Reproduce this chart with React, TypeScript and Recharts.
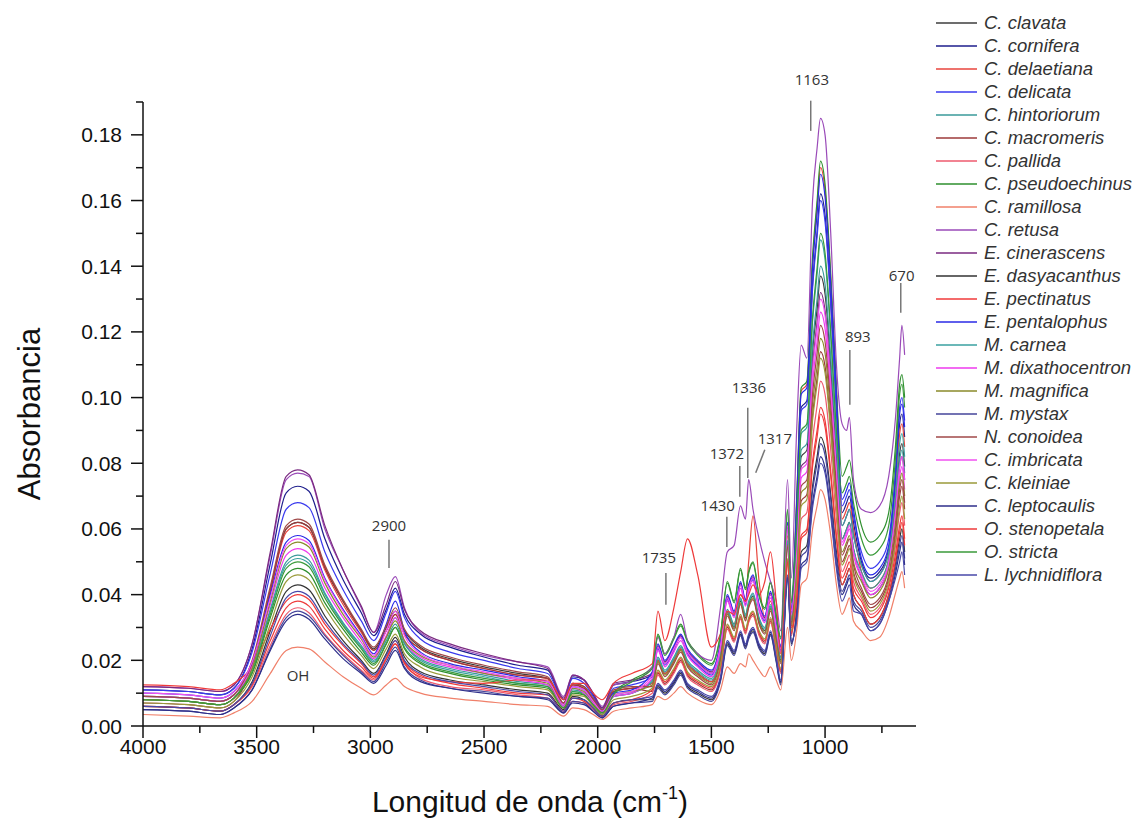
import React from 'react';
import { LineChart, Line, XAxis, YAxis, ReferenceLine, ReferenceDot } from 'recharts';

// wavenumbers (cm-1) at which every spectrum is sampled
const WAVENUMBER = [
  4000, 3800, 3660, 3600, 3520, 3440, 3370, 3320, 3270, 3200,
  3120, 3040, 2985, 2930, 2890, 2850, 2780, 2650, 2500, 2350,
  2220, 2150, 2110, 2060, 2020, 1980, 1930, 1850, 1760, 1735,
  1705, 1665, 1635, 1605, 1560, 1500, 1460, 1430, 1400, 1372,
  1350, 1336, 1317, 1290, 1265, 1240, 1215, 1195, 1165, 1148,
  1125, 1105, 1080, 1055, 1035, 1020, 1000, 975, 950, 925,
  905, 893, 875, 840, 800, 760, 720, 690, 672, 662,
  650,
];

// absorbance values in thousandths (x 0.001)
const cClavata = [
  8, 7.5, 6.5, 8.5, 19, 41.5, 60, 62, 60.5, 48,
  38, 29, 23.5, 30, 35, 29, 24, 20.5, 18, 16,
  14.5, 7, 13, 12, 8, 5, 10.5, 11.5, 13, 20,
  16, 20, 23.5, 19, 16, 13.5, 21, 34.5, 30, 38,
  33, 37, 39.5, 32, 29, 36, 27, 20, 55.5, 31.5,
  55, 82, 84, 114, 127, 137, 131.5, 110, 82, 57,
  60, 62, 54, 45, 40, 42, 49, 67, 83, 86,
  79,
];
const cCornifera = [
  11, 10.5, 9.5, 11.5, 23.5, 49.5, 71, 73, 71.5, 57,
  44.5, 34.5, 27.5, 35.5, 42, 34, 28, 24, 21, 18.5,
  17, 8, 15, 14, 9.5, 5.5, 12.5, 13.5, 15.5, 24,
  19, 23.5, 27, 22.5, 19, 16, 24.5, 39, 34, 43,
  37.5, 42, 45, 36, 32.5, 40, 30.5, 23.5, 61, 35,
  65, 97, 99, 134.5, 150.5, 162, 155.5, 129.5, 97, 65,
  68, 70, 62, 50, 45, 47, 54, 74, 92, 95,
  88,
];
const cDelaetiana = [
  9, 8.5, 7.5, 9.5, 19.5, 41, 59, 61, 59.5, 47.5,
  37, 28.5, 23, 29, 34, 28, 23.5, 20, 17.5, 15.5,
  14.5, 7, 12.5, 11.5, 8, 4.5, 10.5, 11.5, 13, 20,
  16, 20, 23.5, 19, 16, 13.5, 21, 34.5, 31, 40,
  38, 50, 64, 44, 33, 38, 28, 21, 58, 32,
  68, 102, 104, 141, 158, 170, 163, 136, 102, 63,
  66, 68, 60, 47, 42, 44, 51, 71, 89, 92,
  85,
];
const cDelicata = [
  11, 10.5, 9.5, 11.5, 22.5, 46.5, 66, 68, 66.5, 53,
  41.5, 32, 26, 34.5, 41, 33, 26.5, 22.5, 20, 17.5,
  16, 8, 14.5, 13, 9, 5, 11.5, 12.5, 15, 23.5,
  18.5, 23, 27.5, 22, 18.5, 15.5, 24, 38.5, 33.5, 43.5,
  37, 42.5, 44.5, 35.5, 32, 40.5, 30, 23, 62, 34.5,
  64, 96, 98, 133, 149, 160, 153.5, 128, 96, 67,
  70, 72, 64, 53, 48, 50, 57, 78, 97, 100,
  93,
];
const cHintoriorum = [
  9, 8.5, 7.5, 9.5, 17.5, 35.5, 50, 52, 50.5, 40.5,
  31.5, 24.5, 20, 26, 31, 25, 20.5, 17.5, 15.5, 13.5,
  12.5, 6, 11, 10, 7, 4, 9, 10, 14, 21,
  17, 21, 24.5, 20, 17, 14.5, 22, 35.5, 31, 39,
  34, 38, 40.5, 33, 30, 37, 28, 21, 56.5, 32.5,
  56, 84, 86, 116, 130, 140, 134.5, 112, 84, 57,
  60, 62, 54, 47, 42, 44, 51, 67, 81, 84,
  77,
];
const cMacromeris = [
  7, 6.5, 5.5, 7.5, 18, 41, 60, 62, 60.5, 48.5,
  38, 29, 23, 29, 34, 28, 23.5, 20, 17.5, 15.5,
  14.5, 7, 12.5, 11.5, 8, 4.5, 10.5, 11.5, 10.5, 16,
  13, 16.5, 20, 15.5, 13, 11, 17.5, 30, 26, 33,
  28.5, 32, 34, 28, 25.5, 32, 23.5, 16.5, 50, 28,
  45.5, 68.5, 70.5, 94.5, 106, 114, 109.5, 91, 68.5, 50,
  53, 55, 47, 41, 36, 38, 45, 58.5, 70, 73,
  66,
];
const cPallida = [
  6, 5.5, 4.5, 6.5, 12, 24.5, 34, 36, 34.5, 28,
  22, 17, 14, 20.5, 26, 19.5, 14.5, 12, 11, 9.5,
  8.5, 4, 7.5, 7, 5, 3, 6.5, 7.5, 10, 15.5,
  12.5, 16, 19.5, 15, 12.5, 10.5, 17, 29.5, 25.5, 32.5,
  28, 31.5, 33.5, 27.5, 25, 31.5, 23, 16, 49.5, 27.5,
  42, 63, 65, 87, 97.5, 105, 101, 84, 63, 47,
  50, 52, 44, 39, 34, 36, 43, 55, 65, 68,
  61,
];
const cPseudoechinus = [
  8, 7.5, 6.5, 8.5, 16, 33, 46, 48, 46.5, 37.5,
  29.5, 22.5, 18.5, 25, 30, 23.5, 19, 16, 14, 12.5,
  11.5, 5.5, 10, 9.5, 6.5, 3.5, 10, 14, 18, 28,
  22, 27, 31, 26, 22, 19, 28, 44, 38, 48,
  42, 47, 50, 40, 36, 44, 34, 27, 66, 38,
  69, 103, 105, 143, 160, 172, 165, 137.5, 103, 76,
  79, 81, 73, 61, 56, 58, 65, 85.5, 104, 107,
  100,
];
const cRamillosa = [
  3.5, 3, 2.5, 4, 7.5, 16, 23, 24, 23.5, 19.5,
  15, 11.5, 9.5, 12.5, 14.5, 12, 10, 8.5, 7.5, 6.5,
  6, 3, 5.5, 5, 3.5, 2, 4.5, 5.5, 6.5, 9,
  8, 10, 12, 10, 8, 6.5, 11, 18, 16, 19,
  18, 22, 20, 17, 15, 18, 14, 11, 30, 20,
  29, 43, 45, 60, 67, 72, 69, 58, 43, 34,
  37, 39, 32, 29, 26, 27, 33, 40.5, 45, 47,
  42,
];
const cRetusa = [
  12, 11.5, 10.5, 12.5, 25, 52, 75, 77, 76, 60,
  47.5, 36, 28.5, 40, 45.5, 36, 28.5, 24.5, 21.5, 19.5,
  18, 9, 15.5, 14, 10, 6, 12.5, 13.5, 18, 27,
  22, 27, 34, 26, 22, 20, 36, 53, 55, 67,
  63, 75, 66, 57, 50, 44, 38, 29, 75, 45,
  90, 116, 112, 160, 176, 185, 180, 150, 110, 92,
  90, 94, 75, 66, 65, 67, 76, 94, 112, 122,
  113,
];
const eCinerascens = [
  12, 11.5, 10.5, 12.5, 25, 53, 76, 78, 76.5, 61,
  47.5, 36.5, 28.5, 37, 44, 35.5, 29, 25, 22, 19.5,
  17.5, 8.5, 15.5, 14, 10, 5.5, 13, 14, 16, 24.5,
  19.5, 24, 27.5, 23, 19.5, 16.5, 25, 39.5, 34.5, 43.5,
  38, 42.5, 45.5, 36.5, 33, 40.5, 31, 24, 61.5, 35.5,
  53, 79, 81, 109.5, 123, 132, 126.5, 105.5, 79, 61,
  64, 66, 58, 49, 44, 46, 53, 67, 79, 82,
  75,
];
const eDasyacanthus = [
  6, 5.5, 4.5, 6.5, 13.5, 29, 41, 43, 41.5, 33.5,
  26, 20, 16, 22, 27, 21, 16.5, 14, 12.5, 11,
  10, 5, 9, 8, 5.5, 3, 7, 8, 8, 12,
  10, 13, 16, 12, 10, 8, 14, 25, 22, 28,
  24, 27, 29, 24, 22, 28, 20, 13, 45, 25,
  35, 53, 55, 73, 82, 88, 84.5, 70.5, 53, 43,
  46, 48, 40, 36, 31, 33, 40, 49.5, 57, 60,
  53,
];
const ePectinatus = [
  12.5, 12, 11, 13, 18, 29.5, 38, 40, 38.5, 31,
  24.5, 19, 15, 20.5, 25, 19.5, 15.5, 13, 11.5, 10,
  9.5, 4.5, 8.5, 7.5, 5.5, 3, 7, 8, 11, 16.5,
  13.5, 17, 20.5, 16, 13.5, 11.5, 18, 30.5, 26.5, 33.5,
  29, 32.5, 34.5, 28.5, 26, 32.5, 24, 17, 50.5, 28.5,
  39, 58, 60, 80.5, 90, 97, 93, 77.5, 58, 45,
  48, 50, 42, 38, 33, 35, 42, 52.5, 61, 64,
  57,
];
const ePentalophus = [
  10, 9.5, 8.5, 10.5, 19.5, 40, 56, 58, 56.5, 45,
  35.5, 27.5, 22, 31, 38, 29, 22.5, 19, 17, 15,
  13.5, 6.5, 12, 11, 7.5, 4.5, 10, 11, 16.5, 25,
  20, 24.5, 28, 23.5, 20, 17, 25.5, 40, 35, 44,
  38.5, 43, 46, 37, 33.5, 41, 31.5, 24.5, 62, 36,
  67, 101, 103, 139.5, 156, 168, 161, 134.5, 101, 69,
  72, 74, 66, 51, 46, 48, 55, 76, 95, 98,
  91,
];
const mCarnea = [
  9, 8.5, 7.5, 9.5, 17.5, 35, 49, 51, 49.5, 40,
  31, 24, 19.5, 27, 33, 25.5, 20, 17, 15, 13,
  12, 6, 10.5, 10, 7, 4, 9, 10, 13.5, 20.5,
  16.5, 20.5, 24, 19.5, 16.5, 14, 21.5, 35, 30.5, 38.5,
  33.5, 37.5, 40, 32.5, 29.5, 36.5, 27.5, 20.5, 56, 32,
  59, 89, 91, 123, 137.5, 148, 142, 118.5, 89, 61,
  64, 66, 58, 49, 44, 46, 53, 70.5, 86, 89,
  82,
];
const mDixathocentron = [
  9, 8.5, 7.5, 9.5, 18, 37, 52, 54, 52.5, 42,
  33, 25.5, 20.5, 27.5, 33, 26, 21, 18, 16, 14,
  12.5, 6, 11.5, 10, 7, 4, 9, 10, 14.5, 23,
  18, 22.5, 26, 21.5, 18, 15, 23.5, 38, 33, 42,
  36.5, 41, 44, 35, 31.5, 39, 29.5, 22.5, 60, 34,
  50.5, 75.5, 77.5, 104.5, 117, 126, 121, 101, 75.5, 55,
  58, 60, 52, 45, 40, 42, 49, 63.5, 76, 79,
  72,
];
const mMagnifica = [
  8, 7.5, 6.5, 8.5, 17.5, 38, 54, 56, 54.5, 43.5,
  34, 26.5, 21, 27, 32, 26, 21.5, 18.5, 16, 14.5,
  13, 6.5, 11.5, 10.5, 7.5, 4, 9.5, 10.5, 12.5, 19.5,
  15.5, 19.5, 23, 18.5, 15.5, 13, 20.5, 34, 29.5, 37.5,
  32.5, 36.5, 39, 31.5, 28.5, 35.5, 26.5, 19.5, 55, 31,
  47, 71, 73, 98, 109.5, 118, 113.5, 94.5, 71, 53,
  56, 58, 50, 44, 39, 41, 48, 62, 74, 77,
  70,
];
const mMystax = [
  5, 4.5, 3.5, 5.5, 11, 23.5, 33, 35, 33.5, 27.5,
  21.5, 16.5, 13.5, 19.5, 24, 18, 14, 11.5, 10.5, 9,
  8.5, 4, 7.5, 7, 4.5, 2.5, 6, 7, 7.5, 11.5,
  9.5, 12.5, 15.5, 11.5, 9.5, 7.5, 13.5, 24.5, 21.5, 27.5,
  23.5, 26.5, 28.5, 23.5, 21.5, 27.5, 19.5, 12.5, 44.5, 24.5,
  34.5, 51.5, 53.5, 71.5, 80, 86, 82.5, 69, 51.5, 41,
  44, 46, 38, 35, 30, 32, 39, 48, 55, 58,
  51,
];
const nConoidea = [
  9, 8.5, 7.5, 9.5, 20, 42.5, 61, 63, 61.5, 49,
  38.5, 29.5, 24, 30.5, 36, 29.5, 24.5, 21, 18.5, 16.5,
  15, 7, 13, 12, 8.5, 5, 11, 12, 12, 19,
  15, 19, 22.5, 18, 15, 12.5, 20, 33.5, 29, 37,
  32, 36, 38.5, 31, 28, 35, 26, 19, 54.5, 30.5,
  49, 73, 75, 101, 113.5, 122, 117, 97.5, 73, 52,
  55, 57, 49, 42, 37, 39, 46, 60, 72, 75,
  68,
];
const cImbricata = [
  10, 9.5, 8.5, 10.5, 19.5, 39, 55, 57, 55.5, 44.5,
  35, 27, 21.5, 29, 35, 27.5, 22, 18.5, 16.5, 14.5,
  13.5, 6.5, 12, 11, 7.5, 4.5, 9.5, 10.5, 15.5, 24,
  19, 23.5, 27, 22.5, 19, 16, 24.5, 39, 34, 43,
  37.5, 42, 45, 36, 32.5, 40, 30.5, 23.5, 61, 35,
  52, 78, 80, 108, 121, 130, 125, 104, 78, 56,
  59, 61, 53, 46, 41, 43, 50, 65.5, 79, 82,
  75,
];
const cKleiniae = [
  7, 6.5, 5.5, 7.5, 15, 31, 44, 46, 44.5, 36,
  28, 21.5, 17.5, 23.5, 28, 22, 18, 15, 13.5, 12,
  11, 5.5, 9.5, 9, 6, 3.5, 8, 9, 11.5, 17,
  14, 17.5, 21, 16.5, 14, 12, 18.5, 31, 27, 34,
  29.5, 33, 35, 29, 26.5, 33, 24.5, 17.5, 51, 29,
  45, 67, 69, 93, 104, 112, 107.5, 89.5, 67, 49,
  52, 54, 46, 40, 35, 37, 44, 56.5, 67, 70,
  63,
];
const cLeptocaulis = [
  5, 4.5, 3.5, 5.5, 11, 23, 32, 34, 32.5, 26.5,
  20.5, 16, 13, 18.5, 23, 17.5, 13.5, 11.5, 10, 9,
  8, 4, 7, 6.5, 4.5, 2.5, 6, 7, 8.5, 12.5,
  10.5, 13.5, 16.5, 12.5, 10.5, 8.5, 14.5, 25.5, 22.5, 28.5,
  24.5, 27.5, 29.5, 24.5, 22.5, 28.5, 20.5, 13.5, 45.5, 25.5,
  33, 49, 51, 68, 76, 82, 78.5, 65.5, 49, 40,
  43, 45, 37, 34, 29, 31, 38, 46.5, 53, 56,
  49,
];
const oStenopetala = [
  6, 5.5, 4.5, 6.5, 12.5, 26, 36, 38, 36.5, 29.5,
  23, 18, 14.5, 20.5, 25, 19, 15, 13.5, 13, 14,
  14, 8, 13, 13, 10, 8, 13, 16, 19, 35,
  26, 36, 47, 57, 46, 24, 28, 35, 34, 40,
  38, 40, 43, 40, 44, 53, 38, 22, 50, 30,
  38, 57, 59, 79, 88, 95, 91, 76, 57, 43,
  46, 48, 40, 36, 31, 33, 40, 50.5, 59, 62,
  55,
];
const oStricta = [
  8, 7.5, 6.5, 8.5, 16.5, 34, 48, 50, 48.5, 39,
  30.5, 23.5, 19, 25, 30, 24, 19.5, 16.5, 14.5, 13,
  12, 5.5, 10.5, 9.5, 6.5, 4, 9.5, 13.5, 17.5, 27.5,
  21.5, 26.5, 30.5, 25.5, 21.5, 18.5, 27.5, 43.5, 37.5, 47.5,
  41.5, 46.5, 49.5, 39.5, 35.5, 43.5, 33.5, 26.5, 65.5, 37.5,
  60, 90, 92, 124.5, 139.5, 150, 144, 120, 90, 71,
  74, 76, 68, 57, 52, 54, 61, 82, 101, 104,
  97,
];
const lLychnidiflora = [
  6, 5.5, 4.5, 6.5, 13, 27.5, 39, 41, 39.5, 32,
  25, 19.5, 15.5, 21.5, 26, 20, 16, 13.5, 12, 10.5,
  9.5, 4.5, 8.5, 8, 5.5, 3, 7, 8, 9, 13,
  11, 14, 17, 13, 11, 9, 15, 26, 23, 29,
  25, 28, 30, 25, 23, 29, 21, 14, 46, 26,
  32, 48, 50, 66.5, 74.5, 80, 77, 64, 48, 38,
  41, 43, 35, 34, 29, 31, 38, 45, 50, 53,
  46,
];

const SERIES = [
  { name: 'C. clavata', color: '#3d3d3d', values: cClavata },
  { name: 'C. cornifera', color: '#1e1e8c', values: cCornifera },
  { name: 'C. delaetiana', color: '#e8453c', values: cDelaetiana },
  { name: 'C. delicata', color: '#3a3aee', values: cDelicata },
  { name: 'C. hintoriorum', color: '#3a9a9a', values: cHintoriorum },
  { name: 'C. macromeris', color: '#9c3a3a', values: cMacromeris },
  { name: 'C. pallida', color: '#ee5a6e', values: cPallida },
  { name: 'C. pseudoechinus', color: '#2e8f2e', values: cPseudoechinus },
  { name: 'C. ramillosa', color: '#f0806a', values: cRamillosa },
  { name: 'C. retusa', color: '#9a4ab8', values: cRetusa },
  { name: 'E. cinerascens', color: '#7a2a80', values: eCinerascens },
  { name: 'E. dasyacanthus', color: '#333333', values: eDasyacanthus },
  { name: 'E. pectinatus', color: '#f03a3a', values: ePectinatus },
  { name: 'E. pentalophus', color: '#2a2ae6', values: ePentalophus },
  { name: 'M. carnea', color: '#3aa0a0', values: mCarnea },
  { name: 'M. dixathocentron', color: '#ee3aee', values: mDixathocentron },
  { name: 'M. magnifica', color: '#8a8a2a', values: mMagnifica },
  { name: 'M. mystax', color: '#44449a', values: mMystax },
  { name: 'N. conoidea', color: '#a04848', values: nConoidea },
  { name: 'C. imbricata', color: '#f050f0', values: cImbricata },
  { name: 'C. kleiniae', color: '#9a9a3a', values: cKleiniae },
  { name: 'C. leptocaulis', color: '#2e2e8a', values: cLeptocaulis },
  { name: 'O. stenopetala', color: '#ee3a3a', values: oStenopetala },
  { name: 'O. stricta', color: '#3a9a3a', values: oStricta },
  { name: 'L. lychnidiflora', color: '#4848a8', values: lLychnidiflora },
];

const X_TICKS = [4000, 3750, 3500, 3250, 3000, 2750, 2500, 2250, 2000, 1750, 1500, 1250, 1000, 750];
const Y_TICKS = [0, 0.01, 0.02, 0.03, 0.04, 0.05, 0.06, 0.07, 0.08, 0.09, 0.1,
  0.11, 0.12, 0.13, 0.14, 0.15, 0.16, 0.17, 0.18, 0.19];

// band labels: text centre in data units
const PEAK_LABELS = [
  { text: 'OH', x: 3318, y: 0.0155 },
  { text: '2900', x: 2918, y: 0.0612 },
  { text: '1735', x: 1731, y: 0.0515 },
  { text: '1430', x: 1472, y: 0.0673 },
  { text: '1372', x: 1432, y: 0.0832 },
  { text: '1336', x: 1335, y: 0.1033 },
  { text: '1317', x: 1221, y: 0.0877 },
  { text: '1163', x: 1058, y: 0.197 },
  { text: '893', x: 856, y: 0.1188 },
  { text: '670', x: 663, y: 0.1374 },
];
// leader lines: [x1, y1, x2, y2]
const PEAK_LINES = [
  [2918, 0.0567, 2918, 0.0481],
  [1700, 0.0466, 1700, 0.0369],
  [1432, 0.0637, 1432, 0.0545],
  [1375, 0.0792, 1375, 0.0698],
  [1340, 0.0969, 1340, 0.0755],
  [1265, 0.0841, 1305, 0.0771],
  [1063, 0.1904, 1063, 0.1812],
  [891, 0.1145, 891, 0.0978],
  [667, 0.1349, 667, 0.1258],
];

const data = WAVENUMBER.map((wn, i) => {
  const row: Record<string, number> = { wn };
  SERIES.forEach((s, k) => {
    row['s' + k] = s.values[i] / 1000;
  });
  return row;
});

const AXIS_FONT = '"Liberation Sans", Arial, sans-serif';
const INK = '#111';

const XTick = ({ x, y, payload }: any) => {
  const major = payload.value % 500 === 0;
  return (
    <g>
      <line x1={x} y1={y} x2={x} y2={y + (major ? 12 : 7)} stroke={INK} strokeWidth={1.5} />
      {major && (
        <text x={x} y={y + 28} textAnchor="middle" fontSize={21} fontFamily={AXIS_FONT} fill={INK}>
          {payload.value}
        </text>
      )}
    </g>
  );
};

const YTick = ({ x, y, payload }: any) => {
  const major = Math.round(payload.value * 100) % 2 === 0;
  return (
    <g>
      <line x1={x} y1={y} x2={x - (major ? 12 : 7)} y2={y} stroke={INK} strokeWidth={1.5} />
      {major && (
        <text x={x - 21} y={y + 7.5} textAnchor="end" fontSize={21} fontFamily={AXIS_FONT} fill={INK}>
          {payload.value.toFixed(2)}
        </text>
      )}
    </g>
  );
};

const XTitle = () => (
  <text x={530} y={812} textAnchor="middle" fontSize={30} fontFamily={AXIS_FONT} fill={INK}>
    Longitud de onda (cm
    <tspan dy={-13} fontSize={18}>-1</tspan>
    <tspan dy={13}>)</tspan>
  </text>
);

const YTitle = () => (
  <text
    x={40}
    y={414}
    transform="rotate(-90 40 414)"
    textAnchor="middle"
    fontSize={31}
    fontFamily={AXIS_FONT}
    fill={INK}
  >
    Absorbancia
  </text>
);

const PeakText = (text: string) => (props: any) => (
  <text
    x={props.cx}
    y={props.cy}
    textAnchor="middle"
    dominantBaseline="central"
    fontSize={15}
    fontFamily='"Open Sans", "Noto Sans", sans-serif'
    fill="#333"
  >
    {text}
  </text>
);

const SpeciesLegend = () => (
  <div
    style={{
      position: 'absolute',
      left: 936,
      top: 11,
      fontFamily: AXIS_FONT,
      fontStyle: 'italic',
      fontSize: 18.5,
      color: '#333',
    }}
  >
    {SERIES.map((s) => (
      <div key={s.name} style={{ height: 23.03, display: 'flex', alignItems: 'center', whiteSpace: 'nowrap' }}>
        <svg width={48} height={4} style={{ flexShrink: 0 }}>
          <line x1={0} y1={2} x2={41} y2={2} stroke={s.color} strokeWidth={1.6} />
        </svg>
        <span>{s.name}</span>
      </div>
    ))}
  </div>
);

export default function App() {
  return (
    <div style={{ position: 'absolute', left: 0, top: 0, width: 1136, height: 823, background: '#fff' }}>
      <LineChart width={1136} height={823} data={data} margin={{ top: 102, right: 220, bottom: 37, left: 83 }}>
        <XAxis
          dataKey="wn"
          type="number"
          domain={[600, 4000]}
          reversed
          ticks={X_TICKS}
          interval={0}
          height={60}
          tickSize={0}
          tickMargin={0}
          tickLine={false}
          tick={<XTick />}
          axisLine={{ stroke: INK, strokeWidth: 1.5 }}
          label={{ content: () => <XTitle /> }}
        />
        <YAxis
          type="number"
          domain={[0, 0.19]}
          ticks={Y_TICKS}
          interval={0}
          width={60}
          tickSize={0}
          tickMargin={0}
          tickLine={false}
          tick={<YTick />}
          axisLine={{ stroke: INK, strokeWidth: 1.5 }}
          label={{ content: () => <YTitle /> }}
        />
        {SERIES.map((s, k) => (
          <Line
            key={s.name}
            dataKey={'s' + k}
            name={s.name}
            type="monotone"
            stroke={s.color}
            strokeWidth={1.2}
            dot={false}
            isAnimationActive={false}
          />
        ))}
        {PEAK_LINES.map(([x1, y1, x2, y2], i) => (
          <ReferenceLine
            key={'pl' + i}
            segment={[{ x: x1, y: y1 }, { x: x2, y: y2 }]}
            stroke="#777"
            strokeWidth={1.5}
            ifOverflow="visible"
          />
        ))}
        {PEAK_LABELS.map((p) => (
          <ReferenceDot key={p.text} x={p.x} y={p.y} r={0} ifOverflow="visible" shape={PeakText(p.text)} />
        ))}
      </LineChart>
      <SpeciesLegend />
    </div>
  );
}
